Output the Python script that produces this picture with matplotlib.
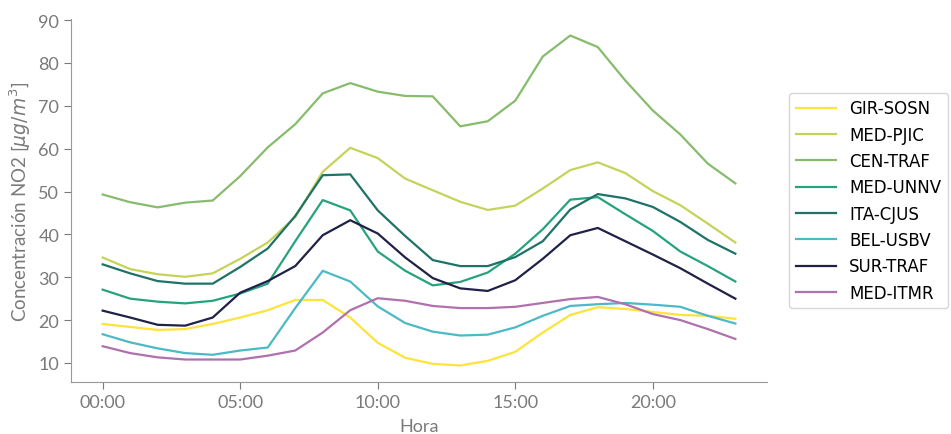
import numpy as np
import matplotlib.pyplot as plt

horas = np.arange(24)
etiquetas_x = ['00:00', '05:00', '10:00', '15:00', '20:00']

gir_sosn = [19.1, 18.4, 17.7, 17.9, 19.1, 20.6, 22.3, 24.7, 24.7, 20.6, 14.7, 11.2,
            9.8, 9.4, 10.5, 12.6, 17.1, 21.2, 23.0, 22.6, 21.9, 21.2, 21.0, 20.3]
med_pjic = [34.6, 31.9, 30.7, 30.1, 30.9, 34.3, 38.1, 44.0, 54.6, 60.2, 57.8, 53.0,
            50.3, 47.6, 45.7, 46.7, 50.7, 55.0, 56.8, 54.3, 50.1, 46.8, 42.5, 38.1]
cen_traf = [49.3, 47.5, 46.3, 47.4, 47.9, 53.6, 60.3, 65.7, 72.9, 75.3, 73.3, 72.3,
            72.2, 65.2, 66.4, 71.2, 81.5, 86.4, 83.7, 75.9, 68.9, 63.3, 56.5, 51.9]
med_unnv = [27.1, 25.0, 24.3, 23.9, 24.5, 26.2, 28.5, 38.4, 48.0, 45.6, 36.0, 31.5,
            28.1, 28.9, 31.1, 35.5, 41.2, 48.1, 48.7, 44.7, 40.8, 36.0, 32.6, 29.0]
ita_cjus = [33.0, 30.9, 29.1, 28.5, 28.5, 32.4, 36.7, 44.3, 53.8, 54.0, 45.6, 39.6,
            34.0, 32.6, 32.6, 34.7, 38.4, 45.8, 49.4, 48.4, 46.4, 42.9, 38.7, 35.5]
bel_usbv = [16.7, 14.8, 13.4, 12.3, 11.9, 12.9, 13.6, 22.8, 31.5, 29.0, 23.2, 19.3,
            17.3, 16.4, 16.6, 18.3, 21.0, 23.3, 23.7, 24.0, 23.6, 23.1, 21.0, 19.2]
sur_traf = [22.2, 20.6, 18.9, 18.7, 20.6, 26.4, 29.1, 32.6, 39.8, 43.3, 40.2, 34.6,
            29.8, 27.4, 26.8, 29.3, 34.3, 39.8, 41.5, 38.4, 35.3, 32.1, 28.5, 25.0]
med_itmr = [13.9, 12.3, 11.3, 10.8, 10.8, 10.8, 11.7, 12.9, 17.1, 22.3, 25.1, 24.5,
            23.3, 22.8, 22.8, 23.1, 24.0, 24.9, 25.4, 23.7, 21.4, 20.0, 17.9, 15.6]

estaciones = ['GIR-SOSN', 'MED-PJIC', 'CEN-TRAF', 'MED-UNNV',
              'ITA-CJUS', 'BEL-USBV', 'SUR-TRAF', 'MED-ITMR']
series = [gir_sosn, med_pjic, cen_traf, med_unnv, ita_cjus, bel_usbv, sur_traf, med_itmr]
colores = ['#fde33a', '#c5d35b', '#86bc6c', '#27a27f',
           '#1e7267', '#4cb9c6', '#1f2147', '#b070ae']

gris = '#7a7a7a'
fuente = dict(family='Lato', color=gris)

fig = plt.figure(figsize=(9.51, 4.35), dpi=100)
ax = fig.add_axes([0.0747, 0.1195, 0.7318, 0.8345])

for nombre, valores, c in zip(estaciones, series, colores):
    ax.plot(horas, valores, color=c, lw=1.6, label=nombre)

ax.set_xticks([0, 5, 10, 15, 20])
ax.set_xticklabels(etiquetas_x, fontsize=13, **fuente)
ax.set_yticks(np.arange(10, 91, 10))
ax.set_yticklabels([str(v) for v in range(10, 91, 10)], fontsize=13, **fuente)
ax.tick_params(colors=gris, length=5)

for s in ['top', 'right']:
    ax.spines[s].set_visible(False)
for s in ['left', 'bottom']:
    ax.spines[s].set_color('#999999')

ax.set_xlabel('Hora', fontsize=13, labelpad=6, **fuente)
ax.set_ylabel('Concentración NO2 [$\\mu g/m^3$]', fontsize=13.5, labelpad=4, **fuente)

ax.legend(loc='center left', bbox_to_anchor=(1.02, 0.5), fontsize=12,
          handlelength=2.4, frameon=True)

fig.savefig('out.png', dpi=100)
